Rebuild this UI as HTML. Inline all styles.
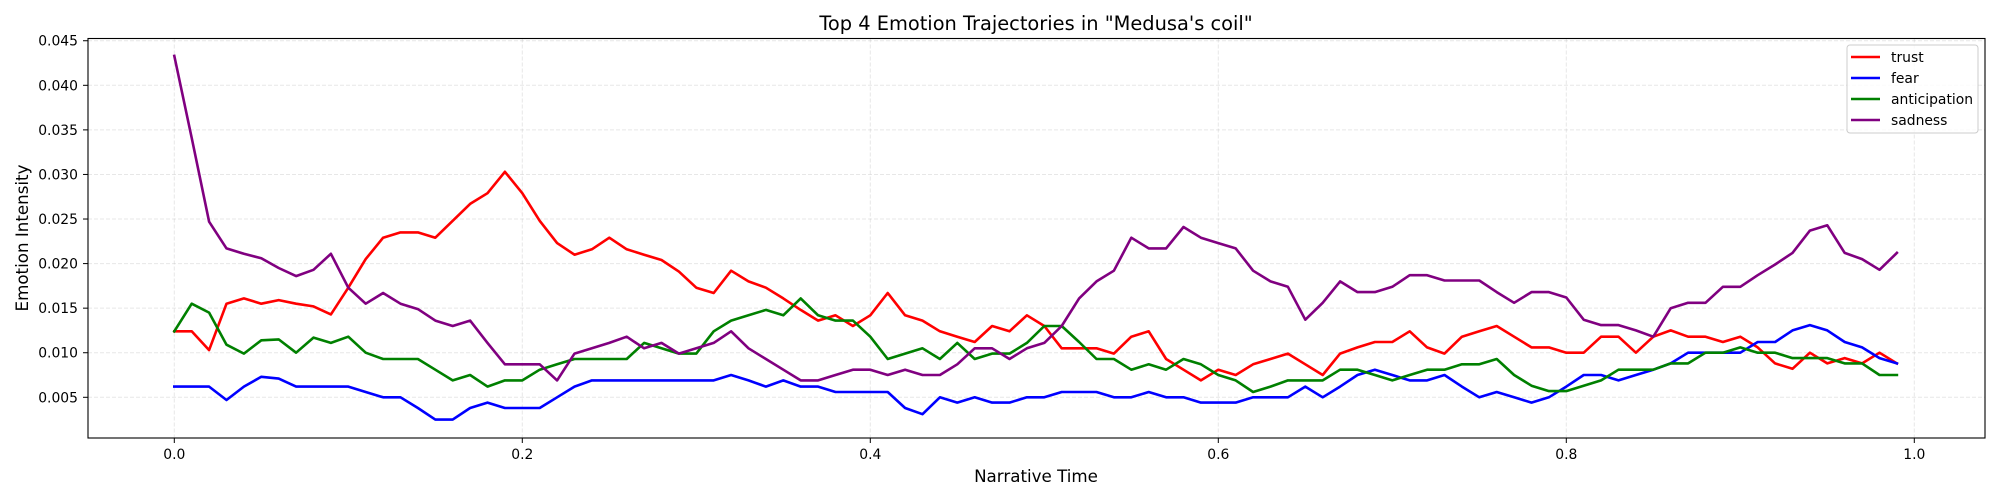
<!DOCTYPE html>
<html><head><meta charset="utf-8"><style>
html,body{margin:0;padding:0;background:#fff;}
svg{display:block;font-family:"DejaVu Sans","Liberation Sans",sans-serif;}
</style></head><body>
<svg id="chart" width="2000" height="500" viewBox="0 0 2000 500">
<rect x="0" y="0" width="2000" height="500" fill="#fff"/>
<text x="1036" y="30" font-size="19.4" text-anchor="middle" fill="#000">Top 4 Emotion Trajectories in "Medusa's coil"</text>
<g id="grid"></g>
<g id="series"></g>
<rect x="88" y="38.5" width="1897" height="399.5" fill="none" stroke="#000" stroke-width="1.1"/>
<g id="ticks"></g>
<text x="1036" y="482" font-size="16.7" text-anchor="middle" fill="#000">Narrative Time</text>
<text x="0" y="0" font-size="16.7" text-anchor="middle" fill="#000" transform="translate(28,238) rotate(-90)">Emotion Intensity</text>
<g id="legend">
<rect x="1847" y="45" width="131" height="88" rx="3" fill="#fff" fill-opacity="0.8" stroke="#ccc" stroke-width="1"/>
</g>
</svg>
<script>
const seriesNames = ["trust","fear","anticipation","sadness"];
const seriesColors = ["#ff0000","#0000ff","#008000","#800080"];
const xTicks = [0.0,0.2,0.4,0.6,0.8,1.0];
const xTickLabels = ["0.0","0.2","0.4","0.6","0.8","1.0"];
const yTicks = [0.005,0.010,0.015,0.020,0.025,0.030,0.035,0.040,0.045];
const yTickLabels = ["0.005","0.010","0.015","0.020","0.025","0.030","0.035","0.040","0.045"];
const trust = [0.0124,0.0124,0.0103,0.0155,0.0161,0.0155,0.0159,0.0155,0.0152,0.0143,0.0173,0.0205,0.0229,0.0235,0.0235,0.0229,0.0248,0.0267,0.0279,0.0303,0.0279,0.0248,0.0223,0.0210,0.0216,0.0229,0.0216,0.0210,0.0204,0.0191,0.0173,0.0167,0.0192,0.0180,0.0173,0.0161,0.0148,0.0136,0.0142,0.0130,0.0142,0.0167,0.0142,0.0136,0.0124,0.0118,0.0112,0.0130,0.0124,0.0142,0.0130,0.0105,0.0105,0.0105,0.0099,0.0118,0.0124,0.0093,0.0081,0.0069,0.0081,0.0075,0.0087,0.0093,0.0099,0.0087,0.0075,0.0099,0.0106,0.0112,0.0112,0.0124,0.0106,0.0099,0.0118,0.0124,0.0130,0.0118,0.0106,0.0106,0.0100,0.0100,0.0118,0.0118,0.0100,0.0118,0.0125,0.0118,0.0118,0.0112,0.0118,0.0106,0.0088,0.0082,0.0100,0.0088,0.0094,0.0088,0.0100,0.0088];
const fear = [0.0062,0.0062,0.0062,0.0047,0.0062,0.0073,0.0071,0.0062,0.0062,0.0062,0.0062,0.0056,0.0050,0.0050,0.0038,0.0025,0.0025,0.0038,0.0044,0.0038,0.0038,0.0038,0.0050,0.0062,0.0069,0.0069,0.0069,0.0069,0.0069,0.0069,0.0069,0.0069,0.0075,0.0069,0.0062,0.0069,0.0062,0.0062,0.0056,0.0056,0.0056,0.0056,0.0038,0.0031,0.0050,0.0044,0.0050,0.0044,0.0044,0.0050,0.0050,0.0056,0.0056,0.0056,0.0050,0.0050,0.0056,0.0050,0.0050,0.0044,0.0044,0.0044,0.0050,0.0050,0.0050,0.0062,0.0050,0.0062,0.0075,0.0081,0.0075,0.0069,0.0069,0.0075,0.0062,0.0050,0.0056,0.0050,0.0044,0.0050,0.0062,0.0075,0.0075,0.0069,0.0075,0.0081,0.0088,0.0100,0.0100,0.0100,0.0100,0.0112,0.0112,0.0125,0.0131,0.0125,0.0112,0.0106,0.0094,0.0088];
const anticipation = [0.0124,0.0155,0.0145,0.0109,0.0099,0.0114,0.0115,0.0100,0.0117,0.0111,0.0118,0.0100,0.0093,0.0093,0.0093,0.0081,0.0069,0.0075,0.0062,0.0069,0.0069,0.0081,0.0087,0.0093,0.0093,0.0093,0.0093,0.0111,0.0105,0.0099,0.0099,0.0124,0.0136,0.0142,0.0148,0.0142,0.0161,0.0142,0.0136,0.0136,0.0118,0.0093,0.0099,0.0105,0.0093,0.0111,0.0093,0.0099,0.0099,0.0111,0.0130,0.0130,0.0112,0.0093,0.0093,0.0081,0.0087,0.0081,0.0093,0.0087,0.0075,0.0069,0.0056,0.0062,0.0069,0.0069,0.0069,0.0081,0.0081,0.0075,0.0069,0.0075,0.0081,0.0081,0.0087,0.0087,0.0093,0.0075,0.0063,0.0057,0.0057,0.0063,0.0069,0.0081,0.0081,0.0081,0.0088,0.0088,0.0100,0.0100,0.0106,0.0100,0.0100,0.0094,0.0094,0.0094,0.0088,0.0088,0.0075,0.0075];
const sadness = [0.0433,0.0341,0.0247,0.0217,0.0211,0.0206,0.0195,0.0186,0.0193,0.0211,0.0173,0.0155,0.0167,0.0155,0.0149,0.0136,0.0130,0.0136,0.0111,0.0087,0.0087,0.0087,0.0069,0.0099,0.0105,0.0111,0.0118,0.0105,0.0111,0.0099,0.0105,0.0111,0.0124,0.0105,0.0093,0.0081,0.0069,0.0069,0.0075,0.0081,0.0081,0.0075,0.0081,0.0075,0.0075,0.0087,0.0105,0.0105,0.0093,0.0105,0.0111,0.0130,0.0161,0.0180,0.0192,0.0229,0.0217,0.0217,0.0241,0.0229,0.0223,0.0217,0.0192,0.0180,0.0174,0.0137,0.0156,0.0180,0.0168,0.0168,0.0174,0.0187,0.0187,0.0181,0.0181,0.0181,0.0168,0.0156,0.0168,0.0168,0.0162,0.0137,0.0131,0.0131,0.0125,0.0118,0.0150,0.0156,0.0156,0.0174,0.0174,0.0187,0.0199,0.0212,0.0237,0.0243,0.0212,0.0205,0.0193,0.0212];
const allSeries = [trust, fear, anticipation, sadness];

const NS = "http://www.w3.org/2000/svg";
const X0 = 174.3, XPER = 1740;      // px per 1.0 of narrative time
const Y005 = 397.3, YPER = 8914;    // px per 1.0 of intensity
function xs(t){ return X0 + t*XPER; }
function ys(v){ return Y005 - (v-0.005)*YPER; }
function mk(tag, attrs, parent){
  const e = document.createElementNS(NS, tag);
  for (const k in attrs) e.setAttribute(k, attrs[k]);
  parent.appendChild(e); return e;
}
const grid = document.getElementById("grid");
const ticks = document.getElementById("ticks");
xTicks.forEach((t,i)=>{
  const x = xs(t);
  const g = mk("line",{x1:x,x2:x,y1:38.5,y2:438,stroke:"#b0b0b0","stroke-opacity":"0.3","stroke-dasharray":"4,2","stroke-width":"1"},grid);
  
  
  const tk = mk("line",{x1:x,x2:x,y1:438,y2:443,stroke:"#000","stroke-width":"1"},ticks);
  
  
  const lb = mk("text",{x:x,y:459,"font-size":"13.9","text-anchor":"middle",fill:"#000"},ticks);
  lb.textContent = xTickLabels[i];
  
  
});
yTicks.forEach((v,i)=>{
  const y = ys(v);
  const g = mk("line",{x1:88,x2:1985,y1:y,y2:y,stroke:"#b0b0b0","stroke-opacity":"0.3","stroke-dasharray":"4,2","stroke-width":"1"},grid);
  
  
  const tk = mk("line",{x1:83,x2:88,y1:y,y2:y,stroke:"#000","stroke-width":"1"},ticks);
  
  
  const lb = mk("text",{x:78,y:y+5,"font-size":"13.9","text-anchor":"end",fill:"#000"},ticks);
  lb.textContent = yTickLabels[i];
  
  
});
const sg = document.getElementById("series");
allSeries.forEach((arr,si)=>{
  const pts = arr.map((v,i)=> xs(i/100).toFixed(1)+","+ys(v).toFixed(1)).join(" ");
  const pl = mk("polyline",{points:pts,fill:"none",stroke:seriesColors[si],"stroke-width":"2.6","stroke-linejoin":"round","stroke-linecap":"square"},sg);
  
  
});
const lg = document.getElementById("legend");
seriesNames.forEach((n,i)=>{
  const y = 57 + i*21;
  const ln = mk("line",{x1:1851,x2:1880,y1:y,y2:y,stroke:seriesColors[i],"stroke-width":"2.6"},lg);
  
  
  const t = mk("text",{x:1891,y:y+5,"font-size":"13.9",fill:"#000"},lg);
  t.textContent = n;
  
  
});
</script>
</body></html>
